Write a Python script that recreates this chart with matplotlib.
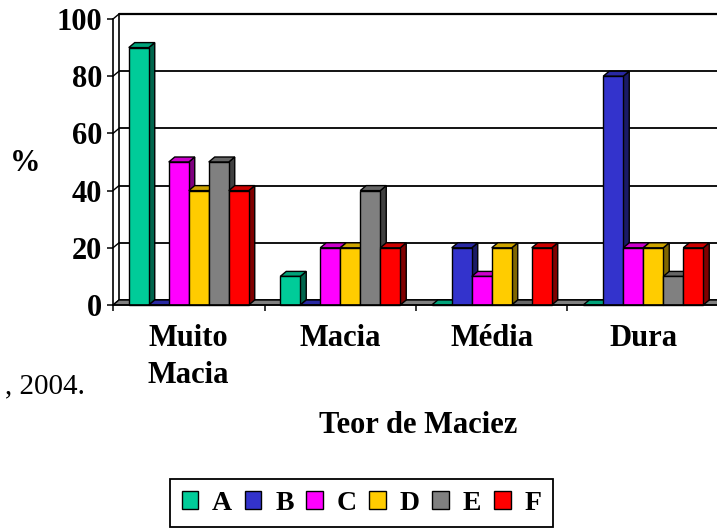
import matplotlib
matplotlib.use("Agg")
import matplotlib.pyplot as plt
from matplotlib.colors import to_rgb
from matplotlib.patches import Patch, Polygon, Rectangle

categories = ["Muito\nMacia", "Macia", "Média", "Dura"]
series = ["A", "B", "C", "D", "E", "F"]
values_a = [90, 10, 0, 0]
values_b = [0, 0, 20, 80]
values_c = [50, 20, 10, 20]
values_d = [40, 20, 20, 20]
values_e = [50, 40, 0, 10]
values_f = [40, 20, 20, 20]
y_ticks = [0, 20, 40, 60, 80, 100]

colors = ["#00CC99", "#3333CC", "#FF00FF", "#FFCC00", "#808080", "#FF0000"]

plt.rcParams["font.family"] = ["Liberation Serif", "DejaVu Serif"]
plt.rcParams["font.weight"] = "bold"

W, H = 717, 529
fig = plt.figure(figsize=(W / 100, H / 100), dpi=100)
ax = fig.add_axes([113 / W, (H - 305) / H, 606 / W, 286 / H])
n_cat = len(categories)
ax.set_xlim(0, n_cat)
ax.set_ylim(0, 100)

# oblique depth offset, in data units
dx = 6 * n_cat / 606
dy = 5 * 100 / 286


def shade(c, f):
    return tuple(v * f for v in to_rgb(c))


# back wall, left wall and floor
for v in y_ticks:
    lw = 1.6 if v == y_ticks[-1] else 1.3
    ax.plot([dx, n_cat + dx], [v + dy, v + dy], color="black", lw=lw,
            clip_on=False, zorder=1, solid_capstyle="butt")
    ax.plot([0, dx], [v, v + dy], color="black", lw=1.0, clip_on=False, zorder=1)
ax.plot([dx, dx], [dy, 100 + dy], color="black", lw=1.2, clip_on=False, zorder=1)
ax.add_patch(Polygon([(0, 0), (n_cat, 0), (n_cat + dx, dy), (dx, dy)],
                     closed=True, fc="#808080", ec="black", lw=1.0,
                     clip_on=False, zorder=2))

values = [values_a, values_b, values_c, values_d, values_e, values_f]
n_series = len(series)
bar_w = 20 / 151.5
side_gap = (1 - n_series * bar_w) / 2

for i in range(n_cat):
    for j in range(n_series):
        v = values[j][i]
        x0 = i + side_gap + j * bar_w
        x1 = x0 + bar_w
        c = colors[j]
        kw = dict(ec="black", lw=1.0, clip_on=False, zorder=3, joinstyle="miter")
        ax.add_patch(Polygon([(x1, 0), (x1 + dx, dy), (x1 + dx, v + dy), (x1, v)],
                             closed=True, fc=shade(c, 0.5), **kw))
        ax.add_patch(Polygon([(x0, v), (x1, v), (x1 + dx, v + dy), (x0 + dx, v + dy)],
                             closed=True, fc=shade(c, 0.8), **kw))
        ax.add_patch(Rectangle((x0, 0), bar_w, v, fc=c, **kw))

for side in ("top", "right"):
    ax.spines[side].set_visible(False)
for side in ("left", "bottom"):
    ax.spines[side].set_linewidth(1.2)
    ax.spines[side].set_zorder(4)

ax.set_yticks(y_ticks)
ax.set_yticklabels([str(t) for t in y_ticks])
ax.set_xticks(range(n_cat + 1))
ax.set_xticklabels([])
ax.tick_params(axis="both", direction="out", length=4.3, width=1.1,
               pad=3.6, labelsize=22, colors="black")

# category names, one text per line so every first line shares a baseline
for i, cat in enumerate(categories):
    for k, line in enumerate(cat.split("\n")):
        ax.text(i + 0.5, -(41 + 37 * k) / 286, line,
                transform=ax.get_xaxis_transform(),
                ha="center", va="baseline", fontsize=22)

fig.text(25 / W, 1 - 163 / H, "%", ha="center", va="center", fontsize=22)
fig.text(418 / W, 1 - 433 / H, "Teor de Maciez", ha="center", va="baseline",
         fontsize=22)
fig.text(85 / W, 1 - 393 / H, ", 2004.", ha="right", va="baseline",
         fontsize=21, fontweight="normal")

handles = [Patch(fc=c, ec="black", lw=1.0) for c in colors]
leg = fig.legend(handles, series, loc="center",
                 bbox_to_anchor=(361.5 / W, 1 - 503 / H), ncol=n_series,
                 frameon=True, fancybox=False, edgecolor="black", framealpha=1,
                 prop=dict(size=20, weight="bold"), handlelength=0.6,
                 handleheight=0.6, handletextpad=0.5, columnspacing=0.45,
                 borderpad=0.4)
leg.get_frame().set_linewidth(1.3)

fig.savefig("out.png", dpi=100)
